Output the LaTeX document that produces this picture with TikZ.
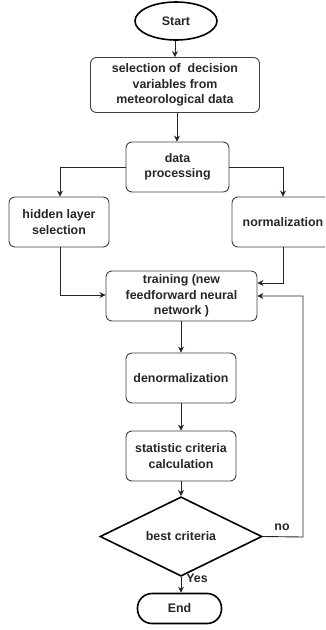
\documentclass[tikz,border=0pt]{standalone}
\usepackage{fontspec}
\setmainfont{Liberation Sans}
\usetikzlibrary{shapes.geometric,arrows.meta}
\begin{document}
\begin{tikzpicture}[x=1pt,y=-1pt,
  every node/.style={font=\fontsize{12.4}{15.5}\selectfont\bfseries, text=black!85, align=center, inner sep=0pt},
  procbox/.style={draw=black!75, line width=0.9pt, rounded corners=6pt, rectangle},
  term/.style={draw=black, line width=1.6pt},
  dec/.style={draw=black, line width=1.6pt, diamond},
  arr/.style={draw=black!85, line width=0.9pt, -{Stealth[length=6pt,width=6pt]}},
  lbl/.style={font=\fontsize{12.4}{15.5}\selectfont\bfseries}]
\useasboundingbox (0,0) rectangle (325,630);
\clip (0,0) rectangle (325,630);
\node[term, ellipse, minimum width=82, minimum height=38] (start) at (176,21) {Start};
\node[procbox, minimum width=169, minimum height=55] (sel) at (175,85) {selection of\ \ decision\\variables from\\meteorological data};
\node[procbox, minimum width=103, minimum height=50] (proc) at (177.5,167) {data\\processing};
\node[procbox, minimum width=100, minimum height=50] (hid) at (59,222) {hidden layer\\selection};
\node[procbox, minimum width=102, minimum height=50] (norm) at (283,222) {normalization};
\node[procbox, minimum width=151, minimum height=50] (train) at (181.5,296) {training (new\\feedforward neural\\network )};
\node[procbox, minimum width=110, minimum height=50] (denorm) at (181,378) {denormalization};
\node[procbox, minimum width=110, minimum height=50] (stat) at (181,456) {statistic criteria\\calculation};
\node[dec, minimum width=162, minimum height=55] (dia) at (181,536.5) {best criteria};
\node[term, rectangle, rounded corners=14.5pt, minimum width=84, minimum height=30] (end) at (179.5,608.5) {End};
\coordinate (hidtop) at (60,167);
\coordinate (normtop) at (283,167);
\coordinate (hidbot) at (60,295);
\coordinate (normbot) at (283,283);
\coordinate (loopa) at (303,537);
\coordinate (loopb) at (303,296);
\draw[arr] (start.south -| 175,0) -- (sel.north -| 175,0);
\draw[arr] (sel.south -| 177,0) -- (proc.north -| 177,0);
\draw[arr] (proc.west) -- (hidtop) -- (hid.north -| hidtop);
\draw[arr] (proc.east) -- (normtop) -- (norm.north -| normtop);
\draw[arr] (hid.south -| hidbot) -- (hidbot) -- (train.west |- hidbot);
\draw[arr] (norm.south -| normbot) -- (normbot) -- (train.east |- normbot);
\draw[arr] (train.south -| 181,0) -- (denorm.north -| 181,0);
\draw[arr] (denorm.south -| 181,0) -- (stat.north -| 181,0);
\draw[arr] (stat.south -| 181,0) -- (dia.north);
\draw[arr] (dia.south) -- (end.north -| dia.south);
\node[lbl] (yes) at (197,578) {Yes};
\draw[arr] (dia.east) -- (loopa) -- (loopb) -- (train.east |- loopb);
\node[lbl] (no) at (282,527) {no};
\end{tikzpicture}
\end{document}
